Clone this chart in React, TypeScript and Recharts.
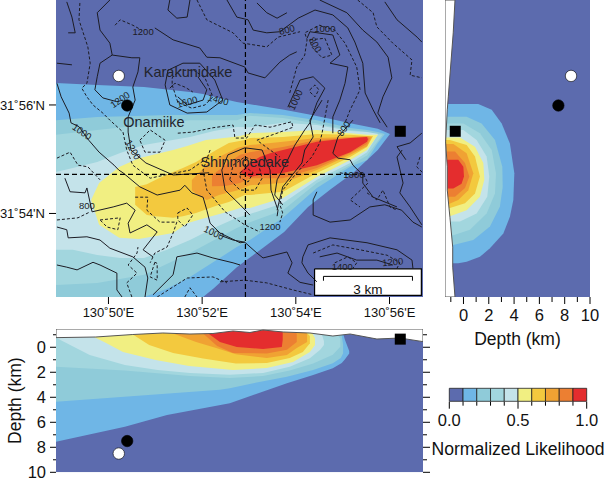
import { Area, Bar, ComposedChart, Line, ReferenceDot, ReferenceLine, Scatter, XAxis, YAxis } from "recharts";

const FONT = "'Liberation Sans', Arial, sans-serif";
const LEVEL_COLORS = ["#5c6bae", "#6fb6e6", "#8fcbd9", "#a2d6de", "#c4e3ea", "#f1ef82", "#f3c93e", "#f0a233", "#ec7f32", "#e42d2e"];
const LEVEL_EDGES = [0, 0.1, 0.2, 0.3, 0.4, 0.5, 0.6, 0.7, 0.8, 0.9, 1];

const LON_DOMAIN = [48.88, 56.715];
const LAT_DOMAIN = [52.46, 57.935];
const DEPTH_DOMAIN = [-1.46, 10];
const LON_TICKS = [50, 52, 54, 56];
const LAT_TICKS = [54, 56];
const DEPTH_TICKS = [-1, 0, 1, 2, 3, 4, 5, 6, 7, 8, 9, 10];

const SITE_LON = [50.22, 50.4, 56.23];
const SITE_LAT = [56.535, 55.99, 55.515];
const SITE_DEPTH = [8.5, 7.5, -0.65];

const CROSS_LON = 52.924;
const CROSS_LAT = 54.72;

// map view, likelihood bands: [lon, north edge, south edge]
const MAP_BANDS = [
  [[48.88, 57.935, 52.46], [56.715, 57.935, 52.46]],
  [[48.88, 56.405, 52.46], [49.76, 56.37, 52.46], [50.76, 56.33, 52.46], [51.74, 56.24, 52.46], [52.02, 56.2, 52.46], [52.25, 56.15, 52.62], [52.74, 56.055, 53.01], [53.26, 55.98, 53.34], [53.75, 55.91, 53.66], [54.26, 55.83, 54.12], [54.75, 55.74, 54.45], [55.24, 55.65, 54.76], [55.75, 55.56, 55.17], [56.01, 55.465, 55.465]],
  [[48.88, 55.72, 52.46], [49.76, 55.78, 52.46], [50.76, 55.8, 52.46], [51.25, 55.815, 52.61], [51.74, 55.815, 52.83], [52.25, 55.815, 53.11], [52.74, 55.815, 53.38], [53.02, 55.85, 53.51], [53.725, 55.815, 53.92], [54.45, 55.72, 54.47], [55.16, 55.575, 54.86], [55.52, 55.54, 54.985], [55.75, 55.5, 55.3], [55.9, 55.465, 55.465]],
  [[48.88, 55.45, 52.68], [49.76, 55.54, 52.72], [50.76, 55.63, 52.87], [51.74, 55.72, 53.27], [52.74, 55.72, 53.73], [53.02, 55.8, 53.84], [53.725, 55.76, 54.06], [54.45, 55.66, 54.56], [55.16, 55.54, 54.89], [55.52, 55.5, 55.07], [55.85, 55.45, 55.45]],
  [[48.88, 54.765, 53.33], [49.24, 54.84, 53.33], [49.76, 54.95, 53.235], [50.25, 55.115, 53.18], [50.76, 55.26, 53.18], [51.25, 55.335, 53.33], [51.74, 55.41, 53.51], [52.25, 55.52, 53.73], [52.74, 55.595, 53.92], [53.02, 55.59, 53.99], [53.725, 55.67, 54.19], [54.45, 55.63, 54.62], [55.16, 55.52, 54.93], [55.52, 55.5, 55.13], [55.755, 55.465, 55.465]],
  [[49.63, 54.25, 54.25], [49.8, 54.56, 53.79], [50.23, 54.855, 53.55], [50.65, 55.02, 53.53], [51.38, 55.17, 53.64], [51.68, 55.245, 53.82], [52.08, 55.355, 53.92], [52.66, 55.41, 54.06], [52.81, 55.43, 54.1], [53.02, 55.48, 54.1], [53.725, 55.5, 54.285], [54.45, 55.54, 54.67], [55.16, 55.48, 54.985], [55.52, 55.45, 55.17], [55.755, 55.45, 55.45]],
  [[50.57, 54.49, 54.16], [50.82, 54.54, 53.97], [51.01, 54.62, 53.95], [51.38, 54.765, 53.92], [51.59, 54.84, 53.95], [51.87, 54.95, 54.01], [52.3, 55.17, 54.14], [52.57, 55.3, 54.21], [52.91, 55.355, 54.34], [53.02, 55.39, 54.34], [53.725, 55.41, 54.4], [54.45, 55.465, 54.745], [55.16, 55.45, 55.04], [55.52, 55.43, 55.225], [55.65, 55.43, 55.43]],
  [[51.78, 54.615, 54.43], [51.93, 54.745, 54.32], [52.1, 54.9, 54.25], [52.36, 55.04, 54.34], [52.76, 55.21, 54.43], [53.02, 55.26, 54.52], [53.725, 55.32, 54.56], [54.45, 55.39, 54.8], [55.16, 55.41, 55.08], [55.52, 55.43, 55.24], [55.625, 55.41, 55.41]],
  [[52.21, 54.7, 54.5], [52.49, 54.89, 54.505], [52.81, 55.08, 54.56], [53.02, 55.13, 54.65], [53.725, 55.225, 54.65], [54.45, 55.355, 54.84], [55.16, 55.39, 55.115], [55.52, 55.41, 55.28], [55.58, 55.39, 55.39]],
  [[52.81, 54.765, 54.765], [53.02, 54.93, 54.67], [53.23, 55.04, 54.71], [53.45, 55.11, 54.72], [53.725, 55.17, 54.745], [54.45, 55.32, 54.89], [55.16, 55.39, 55.13], [55.52, 55.41, 55.32], [55.54, 55.37, 55.37]],
];

// depth vs latitude view, bands: [lat, east edge in km]
const SIDE_BANDS = [
  [[57.935, 10], [52.46, 10]],
  [[56.02, 1.17], [55.91, 2.23], [55.66, 3.02], [55.29, 3.67], [54.74, 4.02], [54.25, 3.94], [53.94, 3.67], [53.63, 3.15], [53.36, 2.09], [53.2, 1.3], [53.11, 0.25], [53.08, -0.41]],
  [[55.785, 0.25], [55.66, 1.43], [55.355, 2.49], [54.86, 3.07], [54.49, 3.1], [54.13, 2.88], [53.76, 2.09], [53.51, 0.78], [53.42, -0.8]],
  [[55.66, 0], [55.48, 1.3], [55.17, 2.23], [54.74, 2.57], [54.37, 2.49], [54, 1.83], [53.7, 0.51], [53.6, -0.8]],
  [[55.54, -0.01], [55.355, 1.04], [55.05, 1.83], [54.68, 2.04], [54.31, 1.88], [54, 1.04], [53.85, -0.28]],
  [[55.4, -0.28], [55.23, 0.91], [54.93, 1.57], [54.62, 1.65], [54.31, 1.3], [54.06, 0.25], [53.95, -1.07]],
  [[55.355, -1.07], [55.26, 0.25], [55.05, 0.91], [54.68, 1.3], [54.37, 0.91], [54.19, 0.12], [54.1, -1.07]],
  [[55.28, -0.8], [55.11, 0.25], [54.74, 0.78], [54.43, 0.38], [54.25, -0.41], [54.17, -1.2]],
  [[55.14, -0.67], [54.93, 0.12], [54.68, 0.46], [54.47, 0.12], [54.31, -0.67]],
  [[54.99, -0.41], [54.86, -0.01], [54.68, 0.04], [54.55, -0.15], [54.46, -0.8]],
];
const SIDE_SURFACE = [[57.935, -0.67], [57.33, -0.81], [56.15, -1.2], [55.91, -1.28], [55.32, -1.41], [54.86, -1.28], [54.43, -1.28], [53.93, -1.07], [53.38, -0.85], [53.01, -0.85], [52.46, -0.67]];

// depth vs longitude view, bands: [lon, lower edge in km, upper edge in km]
const SECTION_BANDS = [
  [[48.88, 10, -1.46], [56.715, 10, -1.46]],
  [[48.88, 7.55, -1.46], [50.35, 6.35, -1.46], [51.25, 5.42, -1.46], [52.59, 4.48, -1.46], [53.09, 3.82, -1.46], [53.81, 2.88, -1.46], [54.37, 2.22, -1.46], [54.79, 1.68, -1.46], [54.98, 1.25, -1.46], [55.05, 0.95, -0.58], [55.14, 0.5, 0.3]],
  [[48.88, 4.35, -1.46], [52.38, 3.4, -1.46], [52.59, 3.28, -1.46], [53.09, 2.88, -1.46], [53.81, 2.35, -1.46], [54.37, 1.82, -1.46], [54.79, 1.28, -1.46], [54.96, 0.85, -1.46], [55.01, 0.48, -0.2]],
  [[48.88, 1.55, -1.46], [50.35, 1.85, -1.46], [51.74, 2.3, -1.46], [52.59, 2.45, -1.46], [53.3, 2.3, -1.46], [53.87, 1.85, -1.46], [54.37, 1.3, -1.46], [54.79, 0.6, -1.46], [54.95, -0.05, -0.7]],
  [[48.88, -0.77, -1.46], [49.1, -0.34, -1.46], [49.6, 0.62, -1.46], [50.35, 1.42, -1.46], [51.05, 1.82, -1.46], [51.74, 2.06, -1.46], [52.59, 2.2, -1.46], [53.3, 2.05, -1.46], [53.87, 1.55, -1.46], [54.3, 0.87, -1.46], [54.52, 0.2, -1.46], [54.6, -0.18, -0.5]],
  [[49.69, -0.82, -1.46], [49.95, -0.34, -1.46], [50.31, 0.38, -1.46], [51.01, 1.02, -1.46], [51.72, 1.5, -1.46], [52.66, 1.82, -1.46], [53.38, 1.66, -1.46], [53.94, 1.18, -1.46], [54.3, 0.38, -1.46], [54.41, -0.18, -0.72]],
  [[50.52, -1.02, -1.46], [50.87, -0.18, -1.46], [51.38, 0.46, -1.46], [52.02, 0.9, -1.46], [52.72, 1.3, -1.46], [53.38, 1.26, -1.46], [53.87, 0.86, -1.46], [54.15, 0.38, -1.46], [54.3, -0.32, -0.9]],
  [[51.38, -1.1, -1.46], [51.87, -0.42, -1.46], [52.3, 0.05, -1.46], [52.72, 0.55, -1.46], [53.38, 0.86, -1.46], [53.81, 0.62, -1.46], [54.02, 0.06, -1.46], [54.24, -0.42, -1.1]],
  [[52.02, -1.1, -1.46], [52.32, -0.1, -1.46], [52.66, 0.46, -1.46], [53.38, 0.5, -1.46], [53.81, 0.2, -1.46], [54.02, -0.42, -1.1]],
  [[52.13, -1.1, -1.46], [52.38, -0.42, -1.46], [52.74, -0.02, -1.46], [53.3, 0.14, -1.46], [53.7, -0.02, -1.46], [53.72, -0.58, -1.1]],
];
const SECTION_SURFACE = [[48.88, -0.77], [49.73, -0.82], [50.52, -1.02], [51.16, -1.14], [51.74, -1.06], [52.23, -1.1], [52.66, -1.3], [53.02, -1.18], [53.3, -1.38], [53.73, -1.22], [54.3, -1.14], [54.79, -0.9], [55.16, -1.06], [55.73, -0.66], [56.22, -0.74], [56.715, -0.45]];

// topography, [lon, lat]
const SOLID_CONTOURS = [
  [[50.03, 57.935], [49.76, 57.7], [49.82, 57.38], [50.03, 57.14], [50.08, 56.92], [50.5, 56.87], [50.67, 56.87], [50.63, 56.61], [50.52, 56.33], [50.57, 56.09], [50.42, 55.78], [50.42, 55.5], [50.48, 55.17], [50.8, 54.93], [51.38, 54.71], [52.15, 54.75]],
  [[50.08, 56.92], [49.82, 56.77], [49.76, 56.52], [49.71, 56.28], [49.88, 56.13], [50.18, 56.06], [50.31, 56.09]],
  [[49.11, 57.9], [49.22, 57.62], [49.29, 57.33], [49.14, 57.33]],
  [[48.9, 56.77], [49.22, 56.74]],
  [[48.9, 56.4], [48.99, 56.15], [49.16, 55.85], [49.2, 55.67], [49.37, 55.6], [49.58, 55.35], [49.8, 55.13], [50.12, 54.89], [50.22, 54.8], [50.31, 54.75], [50.67, 54.49], [51.04, 54.34], [51.53, 54.43], [51.63, 54.52], [51.78, 54.38], [52.02, 54.3], [52.1, 54.06], [52.17, 53.82], [52.38, 53.64], [52.81, 53.46], [52.91, 53.47], [53.17, 53.27], [53.3, 53.18], [53.81, 53.29], [53.92, 53.09], [53.83, 52.9], [54.09, 52.73], [54.37, 52.68]],
  [[49.65, 54.03], [50.1, 54.12], [50.39, 54.19], [50.57, 54.06], [50.42, 53.82], [50.46, 53.64], [50.82, 53.79], [51.04, 53.66], [50.74, 53.33], [50.95, 53.2]],
  [[49.07, 54.65], [49.18, 54.4], [49.5, 54.38], [49.54, 54.47], [49.65, 54.03]],
  [[48.9, 53.75], [49.11, 53.7], [49.14, 53.55], [49.54, 53.57], [49.82, 53.51], [50.03, 53.36], [50.52, 53.2], [50.78, 53.01], [50.84, 52.81], [50.78, 52.46]],
  [[48.9, 53.05], [49.11, 53.01], [49.33, 52.96], [49.67, 53.1], [49.82, 53.05], [50.18, 52.9], [50.18, 52.59], [50.29, 52.46]],
  [[50.95, 52.5], [51.38, 52.87], [51.46, 53.2], [51.89, 53.27], [52.23, 53.18], [52.66, 53.09], [52.81, 53.05]],
  [[51.21, 56.37], [51.31, 56], [51.68, 55.85], [52.1, 55.87], [52.44, 56.09], [52.27, 56.46], [51.95, 56.77], [51.59, 56.77], [51.27, 56.64], [51.21, 56.37]],
  [[51.48, 56.15], [51.68, 56], [52.02, 56.09], [52.1, 56.28], [51.91, 56.52]],
  [[50.99, 57.42], [51.38, 57.2], [51.95, 57.05], [52.1, 56.88], [52.38, 56.87], [52.91, 56.7], [52.98, 56.59], [53.34, 56.5], [53.66, 56.79], [53.87, 56.92], [54.02, 56.98]],
  [[51.31, 57.935], [51.27, 57.75], [51.46, 57.6], [51.68, 57.62], [51.74, 57.935]],
  [[52.53, 57.935], [52.74, 57.62], [52.98, 57.57], [53.09, 57.38], [53.38, 57.33], [53.66, 57.35], [54.05, 57.6], [54.41, 57.75], [54.79, 57.66], [55.11, 57.42], [55.26, 57.16], [55.43, 56.77], [55.48, 56.22], [55.65, 55.91], [55.8, 55.67]],
  [[54.51, 57.935], [55.09, 57.7], [55.43, 57.38], [55.73, 57.16], [55.97, 56.88], [56.05, 56.5], [55.86, 56.15], [55.75, 55.85], [55.95, 55.59]],
  [[55.9, 57.9], [56.16, 57.57], [56.59, 57.25], [56.69, 57.16]],
  [[53.83, 55.96], [54.09, 56.46], [54.37, 56.52], [54.62, 56.31], [54.45, 56.04], [54.3, 55.67], [54.19, 55.54], [53.98, 55.26], [53.77, 54.89], [53.6, 54.62], [53.55, 54.34], [53.72, 54.16]],
  [[54.24, 57.23], [54.3, 57.35], [54.79, 57.29], [54.94, 56.92], [54.73, 56.77], [55.11, 56.7], [55.05, 56.4], [54.94, 56.09], [54.79, 55.78], [54.79, 55.48]],
  [[54.56, 56.09], [54.3, 55.72], [54.37, 55.41], [54.19, 55.17], [54.13, 54.93], [53.72, 54.49], [53.6, 54.06]],
  [[55.22, 55.72], [54.9, 55.41], [54.79, 55.11], [54.9, 55.02], [55.16, 54.99], [55.22, 54.89], [55.43, 54.71], [55.43, 54.56], [55.65, 54.3], [56.16, 54.12]],
  [[54.45, 54.4], [54.37, 54.25], [54.37, 53.97], [54.73, 53.84], [55.16, 53.88], [55.58, 54.12], [55.9, 54.16], [56.26, 54.06], [56.5, 53.84], [56.69, 53.75]],
  [[56.27, 55.17], [56.16, 55.04], [56.29, 54.56], [56.22, 54.38], [56.44, 54.12], [56.69, 53.79]],
  [[56.69, 55.48], [56.44, 55.3], [56.16, 55.23], [56.35, 54.99]],
  [[54.45, 52.74], [54.26, 52.9], [54.13, 53.09], [54.15, 53.2], [54.26, 53.42], [54.73, 53.55], [55.52, 53.46], [56.16, 53.33], [56.48, 53.14], [56.5, 52.99]],
  [[54.51, 53.2], [54.88, 53.27], [55.3, 53.14], [55.73, 53.14], [56.07, 53.05]],
  [[52.38, 53.6], [52.66, 53.51], [52.91, 53.47]],
  [[53.17, 57.88], [53.38, 57.7], [53.6, 57.6], [53.81, 57.7]],
  [[53.02, 53.97], [52.81, 54.16], [52.49, 54.43], [52.42, 54.8], [52.55, 55.08], [52.91, 55.21], [53.28, 55.17], [53.45, 54.8], [53.47, 54.43], [53.62, 54.06], [53.6, 53.95]],
];
const DASHED_CONTOURS = [
  [[49.39, 57.88], [49.37, 57.57], [49.56, 57.07], [49.61, 56.77], [49.54, 56.4], [49.43, 56.31], [49.54, 56.15], [49.67, 56], [49.88, 55.85], [50.03, 55.72], [50.31, 55.5], [50.39, 55.17], [50.52, 54.89], [50.89, 54.65], [51.21, 54.71], [51.74, 54.8], [52.06, 54.99]],
  [[50.14, 57.47], [50.25, 57.57], [50.52, 57.47], [50.71, 57.38]],
  [[51.89, 57.935], [52.1, 57.57], [52.66, 57.33], [52.87, 57.14], [53.38, 57.07], [53.62, 57.25], [54.09, 57.35]],
  [[51.36, 56.37], [51.48, 56.05], [51.78, 55.94], [52.06, 56], [52.23, 56.15], [52.06, 56.5], [51.82, 56.64], [51.53, 56.64], [51.36, 56.5], [51.36, 56.37]],
  [[51.31, 56.31], [51.42, 56.4], [51.63, 56.33], [51.8, 56.24]],
  [[50.67, 55.35], [50.89, 55.54], [51.21, 55.35], [51.1, 55.13], [50.78, 55.13], [50.67, 55.35]],
  [[51.48, 55.48], [51.8, 55.5], [52.23, 55.58], [52.66, 55.63], [52.7, 55.39], [52.95, 55.39], [53.13, 55.63], [53.45, 55.59], [53.91, 55.69], [53.94, 55.59], [53.6, 55.48], [53.17, 55.35], [53.45, 55.17], [53.66, 55.04]],
  [[53.87, 56.22], [54.02, 56.7], [54.19, 56.92], [54.24, 57.2], [54.19, 57.33], [54.51, 57.47], [54.83, 57.38], [55.05, 57.14], [55.3, 56.7], [55.37, 56.28], [55.16, 55.91], [55.05, 55.67]],
  [[54.69, 56.09], [54.56, 55.48], [54.51, 55.3], [54.34, 55.04], [54.02, 54.75], [53.72, 54.43], [53.66, 54.16], [53.72, 54.01], [53.66, 53.84]],
  [[54.3, 56.28], [54.41, 56.37], [54.49, 56.28], [54.41, 56.15], [54.3, 56.24], [54.3, 56.28]],
  [[54.3, 57.2], [54.62, 57.23], [54.77, 56.92], [54.56, 56.87], [54.34, 57.07], [54.3, 57.2]],
  [[55.32, 57.935], [55.65, 57.7], [55.73, 57.44], [56.07, 57.14], [56.48, 56.83], [56.44, 56.55], [56.69, 56.5]],
  [[48.9, 55.02], [49.18, 55.13], [49.35, 54.89], [49.56, 54.86], [49.82, 54.62]],
  [[48.9, 53.88], [49.35, 53.92], [49.61, 54.03]],
  [[50.57, 54.3], [50.84, 54.3], [50.82, 54.06], [51.1, 53.84], [51.46, 53.84], [51.38, 53.64], [51.25, 53.38], [50.99, 53.27], [50.89, 53.09]],
  [[51.48, 54.01], [51.68, 54.1], [51.8, 53.97], [51.63, 53.75], [51.48, 53.88], [51.48, 54.01]],
  [[49.82, 53.88], [50.25, 53.92], [50.2, 53.7], [49.97, 53.75], [49.82, 53.88]],
  [[50.5, 52.46], [50.39, 52.72], [50.61, 52.9], [50.42, 53.05], [50.61, 53.27], [50.63, 53.38]],
  [[50.99, 53.1], [50.89, 52.83], [51.04, 52.77], [51.04, 53.08], [50.99, 53.1]],
  [[51.04, 52.46], [51.68, 52.81], [52.23, 52.83], [52.53, 52.72]],
  [[51.63, 52.46], [51.74, 52.63], [51.89, 52.46]],
  [[52.38, 52.74], [52.91, 52.77], [53.38, 52.72], [53.94, 52.59], [54.37, 52.5]],
  [[54.37, 53.27], [54.79, 53.42], [55.37, 53.33], [55.95, 53.23], [56.22, 53.09], [56.16, 52.99]],
  [[54.83, 53.09], [55.11, 53.2], [55.3, 53.09], [55.22, 52.99]],
  [[56.65, 55.04], [56.58, 54.86], [56.71, 54.75]],
  [[55.52, 54.38], [55.73, 54.25], [55.86, 54.43], [56.01, 54.12], [56.16, 54.06]],
  [[52.81, 54.75], [52.95, 54.84], [53.09, 54.75], [52.98, 54.58], [52.81, 54.66], [52.81, 54.75]],
  [[52.59, 54.62], [52.66, 54.89], [52.91, 55.04], [53.19, 54.95], [53.28, 54.65], [53.13, 54.43], [52.81, 54.43], [52.59, 54.62]],
  [[52.17, 55.17], [52.02, 54.8], [52.1, 54.43], [52.49, 54.03], [52.91, 53.79], [53.23, 53.66]],
  [[54.94, 54.75], [55.2, 54.71], [55.43, 54.75], [55.54, 54.56], [55.16, 54.25], [55.37, 54.12]],
];

const CONTOUR_LABELS: [number, number, string, number][] = [
  [50.74, 57.35, "1200", 0], [50.25, 56.09, "1200", -35], [49.43, 55.5, "1000", 35], [50.52, 55.17, "1200", 60],
  [51.68, 56.05, "1600", -15], [52.34, 56.09, "1400", 15], [53.81, 57.38, "800", -15], [54.62, 57.4, "1000", 0],
  [54.41, 57.11, "800", 60], [54, 56.09, "1000", -65], [55.03, 55.56, "800", -55], [49.54, 54.14, "800", 0],
  [52.25, 53.64, "1000", 25], [53.45, 53.75, "1200", 0], [55.24, 54.71, "1000", 0], [56.07, 53.1, "1200", -5], [54.99, 53.01, "1400", 0],
];
const PLACE_LABELS: [number, number, string][] = [
  [51.7, 56.61, "Karakunidake"],
  [50.97, 55.69, "Onamiike"],
  [52.91, 54.95, "Shinmoedake"],
];

const SCALE_BOX = [[54.4, 52.98, 52.49], [56.68, 52.98, 52.49]];
const SCALE_OUTLINE = [[54.4, 52.98], [56.68, 52.98], [56.68, 52.49], [54.4, 52.49], [54.4, 52.98]];
const SCALE_BAR = [[54.59, 52.76], [54.59, 52.84], [56.49, 52.84], [56.49, 52.76]];

const mapPoint = (p: number[]) => ({ lon: p[0], lat: p[1] });
const bandProps = { stroke: "none", fillOpacity: 1, dot: false, activeDot: false, isAnimationActive: false, legendType: "none" as const };
const lineProps = { dot: false, activeDot: false, isAnimationActive: false, legendType: "none" as const };

function siteShape(i: number) {
  return (p: any) =>
    i === 2 ? (
      <rect x={p.cx - 5.5} y={p.cy - 5.5} width={11} height={11} fill="#000" />
    ) : (
      <circle cx={p.cx} cy={p.cy} r={5.7} fill={i === 0 ? "#fff" : "#000"} stroke="#000" strokeWidth={0.6} />
    );
}

function leftDepthTick(p: any) {
  const v = p.payload.value;
  const even = v % 2 === 0;
  return (
    <g>
      <line x1={p.x - (even ? 6 : 3)} x2={p.x} y1={p.y} y2={p.y} stroke="#000" />
      {even && (
        <text x={p.x - 10} y={p.y + 6} textAnchor="end" fontSize={16.5} fontFamily={FONT} fill="#111">
          {v}
        </text>
      )}
    </g>
  );
}

function rightDepthTick(p: any) {
  const even = p.payload.value % 2 === 0;
  return <line x1={p.x} x2={p.x + (even ? 7 : 4)} y1={p.y} y2={p.y} stroke="#000" />;
}

function bottomDepthTick(p: any) {
  const v = p.payload.value;
  const even = v % 2 === 0;
  return (
    <g>
      <line x1={p.x} x2={p.x} y1={p.y} y2={p.y + (even ? 7 : 5)} stroke="#000" />
      {even && (
        <text x={p.x} y={p.y + 24} textAnchor="middle" fontSize={16.5} fontFamily={FONT} fill="#111">
          {v}
        </text>
      )}
    </g>
  );
}

function likelihoodTick(p: any) {
  const v = p.payload.value;
  const major = Math.round(v * 10) % 5 === 0;
  return (
    <g>
      <line x1={p.x} x2={p.x} y1={p.y} y2={p.y + (major ? 7 : 4)} stroke="#000" />
      {major && (
        <text x={p.x} y={p.y + 24} textAnchor="middle" fontSize={16.5} fontFamily={FONT} fill="#111">
          {v.toFixed(1)}
        </text>
      )}
    </g>
  );
}

function MapPanel() {
  return (
    <ComposedChart width={430} height={320} margin={{ top: 0, right: 7, bottom: 0, left: 0 }}>
      <XAxis
        dataKey="lon"
        type="number"
        domain={LON_DOMAIN}
        allowDataOverflow
        ticks={LON_TICKS}
        tickFormatter={(v) => `130˚${v}'E`}
        tickSize={7}
        tickMargin={4}
        height={23}
        axisLine={false}
        tickLine={{ stroke: "#000" }}
        tick={{ fontSize: 13, fontFamily: FONT, fill: "#111" }}
        interval={0}
      />
      <YAxis
        dataKey="lat"
        type="number"
        domain={LAT_DOMAIN}
        allowDataOverflow
        ticks={LAT_TICKS}
        tickFormatter={(v) => `31˚${v}'N`}
        tickSize={7}
        tickMargin={4}
        width={56}
        axisLine={false}
        tickLine={{ stroke: "#000" }}
        tick={{ fontSize: 13, fontFamily: FONT, fill: "#111" }}
        interval={0}
      />
      {MAP_BANDS.map((rows, i) => (
        <Area
          key={i}
          data={rows.map((r) => ({ lon: r[0], range: [r[2], r[1]] }))}
          dataKey="range"
          type="linear"
          fill={LEVEL_COLORS[i]}
          {...bandProps}
        />
      ))}
      {SOLID_CONTOURS.map((c, i) => (
        <Line key={`s${i}`} data={c.map(mapPoint)} dataKey="lat" type="linear" stroke="#1c1c24" strokeWidth={1} {...lineProps} />
      ))}
      {DASHED_CONTOURS.map((c, i) => (
        <Line key={`d${i}`} data={c.map(mapPoint)} dataKey="lat" type="linear" stroke="#1c1c24" strokeWidth={1} strokeDasharray="3 2" {...lineProps} />
      ))}
      <ReferenceLine x={CROSS_LON} stroke="#000" strokeWidth={1.2} strokeDasharray="5 3" />
      <ReferenceLine y={CROSS_LAT} stroke="#000" strokeWidth={1.2} strokeDasharray="5 3" />
      {CONTOUR_LABELS.map(([lon, lat, text, angle], i) => (
        <ReferenceDot
          key={`c${i}`}
          x={lon}
          y={lat}
          r={0}
          shape={(p: any) => (
            <text x={p.cx} y={p.cy + 3} textAnchor="middle" fontSize={9.5} fontFamily={FONT} fill="#1c1c24" transform={`rotate(${angle} ${p.cx} ${p.cy})`}>
              {text}
            </text>
          )}
        />
      ))}
      {PLACE_LABELS.map(([lon, lat, text], i) => (
        <ReferenceDot
          key={`p${i}`}
          x={lon}
          y={lat}
          r={0}
          shape={(p: any) => (
            <text x={p.cx} y={p.cy + 5} textAnchor="middle" fontSize={14.5} fontFamily={FONT} fill="#22242c">
              {text}
            </text>
          )}
        />
      ))}
      <Area
        data={SCALE_BOX.map((r) => ({ lon: r[0], range: [r[2], r[1]] }))}
        dataKey="range"
        type="linear"
        fill="#fff"
        {...bandProps}
      />
      <Line data={SCALE_OUTLINE.map(mapPoint)} dataKey="lat" type="linear" stroke="#000" strokeWidth={1.2} {...lineProps} />
      <Line data={SCALE_BAR.map(mapPoint)} dataKey="lat" type="linear" stroke="#000" strokeWidth={1} {...lineProps} />
      <ReferenceDot
        x={55.54}
        y={52.61}
        r={0}
        shape={(p: any) => (
          <text x={p.cx} y={p.cy + 5} textAnchor="middle" fontSize={13.5} fontFamily={FONT} fill="#111">
            3 km
          </text>
        )}
      />
      {SITE_LON.map((lon, i) => (
        <Scatter key={i} data={[{ lon, lat: SITE_LAT[i] }]} isAnimationActive={false} shape={siteShape(i)} legendType="none" />
      ))}
    </ComposedChart>
  );
}

function SidePanel() {
  return (
    <ComposedChart layout="vertical" width={175} height={360} margin={{ top: 0, right: 0, bottom: 0, left: 0 }}>
      <XAxis
        dataKey="depth"
        type="number"
        domain={DEPTH_DOMAIN}
        allowDataOverflow
        ticks={DEPTH_TICKS}
        tickSize={0}
        tickMargin={0}
        height={63}
        axisLine={false}
        tickLine={false}
        tick={bottomDepthTick}
        interval={0}
        label={{ value: "Depth (km)", position: "insideBottom", offset: 15, fontSize: 17.5, fontFamily: FONT, fill: "#111" }}
      />
      <YAxis dataKey="lat" type="number" reversed domain={LAT_DOMAIN} allowDataOverflow ticks={LAT_TICKS} tick={false} tickSize={7} width={15} axisLine={false} tickLine={{ stroke: "#000" }} interval={0} />
      <YAxis yAxisId="right" orientation="right" dataKey="lat" type="number" reversed domain={LAT_DOMAIN} allowDataOverflow ticks={LAT_TICKS} tick={false} tickSize={7} width={15} axisLine={false} tickLine={{ stroke: "#000" }} interval={0} />
      {SIDE_BANDS.map((rows, i) => (
        <Area
          key={i}
          data={rows.map((r) => ({ lat: r[0], range: [DEPTH_DOMAIN[0], r[1]] }))}
          dataKey="range"
          type="linear"
          fill={LEVEL_COLORS[i]}
          {...bandProps}
        />
      ))}
      <Area
        data={SIDE_SURFACE.map((r) => ({ lat: r[0], range: [DEPTH_DOMAIN[0], r[1]] }))}
        dataKey="range"
        type="linear"
        fill="#fff"
        {...bandProps}
      />
      <Line
        data={[[57.935, DEPTH_DOMAIN[0]], ...SIDE_SURFACE, [52.46, DEPTH_DOMAIN[0]], [57.935, DEPTH_DOMAIN[0]]].map((r) => ({ lat: r[0], depth: r[1] }))}
        dataKey="depth"
        type="linear"
        stroke="#555"
        strokeWidth={1}
        {...lineProps}
      />
      {SITE_DEPTH.map((depth, i) => (
        <Scatter key={i} data={[{ depth, lat: SITE_LAT[i] }]} isAnimationActive={false} shape={siteShape(i)} legendType="none" />
      ))}
    </ComposedChart>
  );
}

function depthTitle(p: any) {
  const cy = p.viewBox.y + p.viewBox.height / 2;
  return (
    <text x={15} y={cy} textAnchor="middle" dominantBaseline="central" fontSize={17.5} fontFamily={FONT} fill="#111" transform={`rotate(-90 15 ${cy})`}>
      Depth (km)
    </text>
  );
}

function SectionPanel() {
  return (
    <ComposedChart width={433} height={160} margin={{ top: 0, right: 0, bottom: 0, left: 0 }}>
      <XAxis dataKey="lon" type="number" domain={LON_DOMAIN} allowDataOverflow ticks={LON_TICKS} tick={false} tickSize={7} height={7.7} axisLine={false} tickLine={{ stroke: "#000" }} interval={0} />
      <XAxis xAxisId="top" orientation="top" dataKey="lon" type="number" domain={LON_DOMAIN} allowDataOverflow ticks={LON_TICKS} tick={false} tickSize={7} height={9} axisLine={false} tickLine={{ stroke: "#000" }} interval={0} />
      <YAxis
        dataKey="depth"
        type="number"
        reversed
        domain={DEPTH_DOMAIN}
        allowDataOverflow
        ticks={DEPTH_TICKS}
        tickSize={0}
        tickMargin={0}
        width={56}
        axisLine={false}
        tickLine={false}
        tick={leftDepthTick}
        interval={0}
        label={{ content: depthTitle }}
      />
      <YAxis yAxisId="right" orientation="right" dataKey="depth" type="number" reversed domain={DEPTH_DOMAIN} allowDataOverflow ticks={DEPTH_TICKS} tickSize={0} tickMargin={0} width={10} axisLine={false} tickLine={false} tick={rightDepthTick} interval={0} />
      {SECTION_BANDS.map((rows, i) => (
        <Area
          key={i}
          data={rows.map((r) => ({ lon: r[0], range: [r[2], r[1]] }))}
          dataKey="range"
          type="linear"
          fill={LEVEL_COLORS[i]}
          {...bandProps}
        />
      ))}
      <Area
        data={SECTION_SURFACE.map((r) => ({ lon: r[0], range: [DEPTH_DOMAIN[0], r[1]] }))}
        dataKey="range"
        type="linear"
        fill="#fff"
        {...bandProps}
      />
      <Line
        data={[[48.88, DEPTH_DOMAIN[0]], ...SECTION_SURFACE, [56.715, DEPTH_DOMAIN[0]], [48.88, DEPTH_DOMAIN[0]]].map((r) => ({ lon: r[0], depth: r[1] }))}
        dataKey="depth"
        type="linear"
        stroke="#555"
        strokeWidth={1}
        {...lineProps}
      />
      {SITE_LON.map((lon, i) => (
        <Scatter key={i} data={[{ lon, depth: SITE_DEPTH[i] }]} isAnimationActive={false} shape={siteShape(i)} legendType="none" />
      ))}
    </ComposedChart>
  );
}

function ColorBar() {
  const row = Object.fromEntries(LEVEL_COLORS.map((_, i) => [`b${i}`, LEVEL_EDGES[i + 1] - LEVEL_EDGES[i]]));
  return (
    <ComposedChart layout="vertical" width={175} height={90} data={[{ name: "likelihood", ...row }]} barCategoryGap={0} margin={{ top: 8.3, right: 18.3, bottom: 0, left: 19.3 }}>
      <XAxis
        type="number"
        domain={[0, 1]}
        ticks={LEVEL_EDGES}
        tickSize={0}
        tickMargin={0}
        height={68.3}
        axisLine={false}
        tickLine={false}
        tick={likelihoodTick}
        interval={0}
        label={{ value: "Normalized Likelihood", position: "insideBottom", offset: 15, fontSize: 17.6, fontFamily: FONT, fill: "#111" }}
      />
      <YAxis type="category" dataKey="name" hide />
      {LEVEL_COLORS.map((c, i) => (
        <Bar key={i} dataKey={`b${i}`} stackId="bar" fill={c} stroke="#222" strokeWidth={0.8} isAnimationActive={false} legendType="none" />
      ))}
    </ComposedChart>
  );
}

export default function App() {
  const place = (left: number, top: number): React.CSSProperties => ({ position: "absolute", left, top });
  return (
    <div style={{ position: "absolute", left: 0, top: 0, width: 605, height: 480, background: "#fff", overflow: "hidden", fontFamily: FONT }}>
      <div style={place(0, 0)}><MapPanel /></div>
      <div style={place(430, 0)}><SidePanel /></div>
      <div style={place(0, 320)}><SectionPanel /></div>
      <div style={place(430, 380)}><ColorBar /></div>
    </div>
  );
}
